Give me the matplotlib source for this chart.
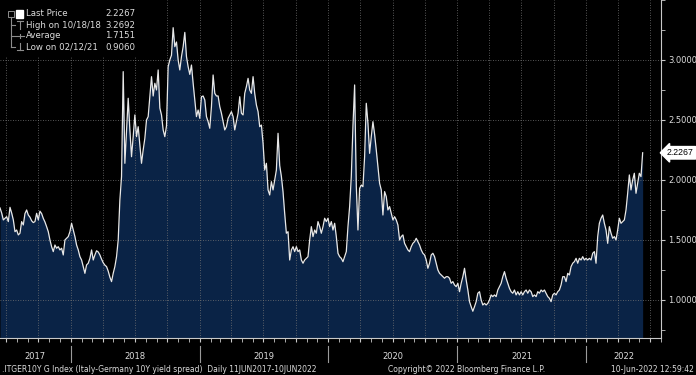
import numpy as np
import pandas as pd
from matplotlib import pyplot as plt
import matplotlib.dates as mdates
import matplotlib.transforms as mtransforms
from matplotlib.patches import Rectangle
from matplotlib.lines import Line2D

# Spread Italia-Alemanha 10Y (amostras ~ a cada 4.7 dias)
spread_jun17_mar18 = [
    1.767, 1.725, 1.667, 1.68, 1.694, 1.653, 1.772, 1.725, 1.667, 1.569,
    1.583, 1.542, 1.556, 1.653, 1.625, 1.72, 1.75, 1.708, 1.69, 1.66,
    1.645, 1.653, 1.722, 1.667, 1.74, 1.72, 1.68, 1.65, 1.611, 1.569,
    1.5, 1.444, 1.403, 1.458, 1.431, 1.444, 1.417, 1.431, 1.375, 1.5,
    1.514, 1.528, 1.569, 1.639, 1.583, 1.528, 1.458, 1.417, 1.361, 1.333,
    1.278, 1.222, 1.292, 1.306, 1.347, 1.417, 1.333, 1.375, 1.41, 1.40,
]
spread_mar18_nov18 = [
    1.375, 1.34, 1.31, 1.29, 1.278, 1.24, 1.19, 1.153, 1.222, 1.278,
    1.361, 1.5, 1.833, 2.028, 2.903, 2.139, 2.417, 2.681, 2.417, 2.194,
    2.361, 2.542, 2.361, 2.444, 2.292, 2.139, 2.25, 2.347, 2.5, 2.528,
    2.694, 2.861, 2.7, 2.806, 2.75, 2.917, 2.6, 2.542, 2.417, 2.361,
    2.45, 2.944, 3.0, 3.04, 3.2692, 3.111, 3.15, 3.0, 2.917, 3.028,
    3.11, 3.23, 3.028, 2.944,
]
spread_nov18_aug19 = [
    2.88, 2.958, 2.806, 2.667, 2.528, 2.583, 2.514, 2.694, 2.70, 2.667,
    2.528, 2.486, 2.431, 2.611, 2.875, 2.722, 2.70, 2.70, 2.611, 2.556,
    2.486, 2.417, 2.444, 2.514, 2.542, 2.569, 2.528, 2.417, 2.486, 2.556,
    2.694, 2.556, 2.542, 2.722, 2.778, 2.847, 2.75, 2.722, 2.861, 2.72,
    2.625, 2.569, 2.444, 2.458, 2.306, 2.083, 2.139, 1.917, 1.875, 1.986,
    1.917, 2.0, 2.083, 2.389, 2.12, 2.03, 1.90,
]
spread_aug19_may20 = [
    1.72, 1.556, 1.569, 1.333, 1.417, 1.444, 1.403, 1.444, 1.403, 1.417,
    1.333, 1.306, 1.333, 1.347, 1.361, 1.5, 1.611, 1.528, 1.583, 1.556,
    1.653, 1.611, 1.556, 1.611, 1.681, 1.653, 1.681, 1.611, 1.653, 1.583,
    1.639, 1.528, 1.389, 1.361, 1.347, 1.319, 1.361, 1.403, 1.611, 1.778,
    2.028, 2.45, 2.792, 1.95, 1.583, 1.93, 1.958, 1.944, 2.194, 2.639,
    2.472, 2.222, 2.361, 2.486, 2.38, 2.25, 2.111,
]
spread_may20_feb21 = [
    1.972, 1.917, 1.708, 1.903, 1.861, 1.75, 1.778, 1.722, 1.667, 1.694,
    1.667, 1.625, 1.5, 1.528, 1.542, 1.472, 1.444, 1.417, 1.403, 1.444,
    1.472, 1.486, 1.514, 1.486, 1.458, 1.417, 1.389, 1.375, 1.333, 1.264,
    1.306, 1.375, 1.389, 1.361, 1.306, 1.25, 1.222, 1.208, 1.194, 1.181,
    1.194, 1.194, 1.181, 1.139, 1.153, 1.125, 1.111, 1.139, 1.069, 1.139,
    1.194, 1.264, 1.167, 1.083, 0.986, 0.944, 0.906,
]
spread_feb21_nov21 = [
    0.944, 0.986, 1.056, 1.069, 1.0, 0.958, 0.972, 0.958, 0.972, 1.0,
    1.042, 1.028, 1.042, 1.028, 1.083, 1.111, 1.139, 1.194, 1.236, 1.181,
    1.139, 1.097, 1.069, 1.056, 1.083, 1.042, 1.069, 1.042, 1.069, 1.042,
    1.069, 1.083, 1.056, 1.083, 1.069, 1.028, 1.042, 1.028, 1.069, 1.056,
    1.083, 1.069, 1.083, 1.056, 1.028, 1.014, 0.986, 1.042, 1.056, 1.042,
    1.069, 1.083, 1.125, 1.194,
]
spread_nov21_jun22 = [
    1.194, 1.153, 1.222, 1.208, 1.278, 1.306, 1.319, 1.347, 1.306, 1.347,
    1.333, 1.361, 1.333, 1.347, 1.333, 1.347, 1.333, 1.389, 1.403, 1.306,
    1.528, 1.639, 1.681, 1.708, 1.639, 1.583, 1.472, 1.611, 1.556, 1.514,
    1.528, 1.5, 1.583, 1.681, 1.639, 1.653, 1.667, 1.75, 1.889, 2.042,
    1.917, 2.0, 2.056, 1.889, 1.972, 2.056, 2.028,
]

ultimo_preco = 2.2267
maximo, data_maximo = 3.2692, "10/18/18"
media = 1.7151
minimo, data_minimo = 0.9060, "02/12/21"

anos = [2017, 2018, 2019, 2020, 2021, 2022]
niveis_y = [1.0, 1.5, 2.0, 2.5, 3.0]

spread = (spread_jun17_mar18 + spread_mar18_nov18 + spread_nov18_aug19 +
          spread_aug19_may20 + spread_may20_feb21 + spread_feb21_nov21 +
          spread_nov21_jun22 + [ultimo_preco])
datas = pd.date_range("2017-06-14", "2022-06-10", periods=len(spread))

# cores estilo terminal
azul = '#0a2346'
cinza = '#c8c8c8'
texto = '#dcdcdc'

W, H = 696, 375
fig = plt.figure(figsize=(W / 100, H / 100), dpi=100, facecolor='black')
ax = fig.add_axes([0, 1 - 338 / H, 661 / W, 338 / H])
ax.set_facecolor('black')

y_min, y_max = 0.683, 3.5
x_min, x_max = datas[0], pd.Timestamp("2022-08-01")

ax.fill_between(datas, spread, y_min, color=azul, linewidth=0, zorder=1)
ax.plot(datas, spread, color='#e8e8e8', linewidth=0.9, zorder=3)

ax.set_xlim(x_min, x_max)
ax.set_ylim(y_min, y_max)

ax.xaxis.set_major_locator(mdates.MonthLocator(bymonth=[1, 4, 7, 10]))
ax.xaxis.set_minor_locator(mdates.MonthLocator())
ax.yaxis.set_major_locator(plt.FixedLocator(niveis_y))
ax.yaxis.set_minor_locator(plt.MultipleLocator(0.25))
ax.yaxis.tick_right()
ax.yaxis.set_major_formatter(plt.FuncFormatter(lambda v, p: f"{v:.4f}"))

ax.set_axisbelow(False)
ax.grid(True, which='major', color='#747474', linestyle=(0, (1, 2)), linewidth=0.6)

for lado in ['left', 'top']:
    ax.spines[lado].set_visible(False)
for lado in ['right', 'bottom']:
    ax.spines[lado].set_color(cinza)
    ax.spines[lado].set_linewidth(0.8)

ax.tick_params(axis='x', which='both', direction='out', length=3, color=cinza,
               labelbottom=False)
ax.tick_params(axis='y', which='both', direction='out', length=3, color=cinza,
               labelcolor=texto, labelsize=6, pad=2)

# anos no eixo x, com separadores
trans_x = ax.get_xaxis_transform()
for ano in anos:
    ini = max(pd.Timestamp(f"{ano}-01-01"), x_min)
    fim = min(pd.Timestamp(f"{ano + 1}-01-01"), x_max)
    meio = ini + (fim - ini) / 2
    ax.text(meio, -0.055, str(ano), transform=trans_x, ha='center', va='center',
            color=texto, fontsize=6, clip_on=False)
    if ano > anos[0]:
        ax.plot([pd.Timestamp(f"{ano}-01-01")] * 2, [-0.025, -0.07], transform=trans_x,
                color='#9a9a9a', linewidth=0.8, clip_on=False)

# etiqueta do ultimo preco
trans_y = mtransforms.blended_transform_factory(ax.transAxes, ax.transData)
ax.text(1 + 6 / 661, ultimo_preco, f"{ultimo_preco:.4f}", transform=trans_y, ha='left',
        va='center', fontsize=6.3, family='Liberation Sans', color='black', clip_on=False,
        bbox=dict(boxstyle='larrow,pad=0.2', fc='white', ec='white'))

# rodape
fig.text(2 / W, 1 - 369 / H, ".ITGER10Y G Index (Italy-Germany 10Y yield spread)  Daily 11JUN2017-10JUN2022",
         color=texto, fontsize=5.5, ha='left', va='center')
fig.text(388 / W, 1 - 369 / H, "Copyright\u00a9 2022 Bloomberg Finance L.P.",
         color=texto, fontsize=5.5, ha='left', va='center')
fig.text(694 / W, 1 - 369 / H, "10-Jun-2022 12:59:42",
         color=texto, fontsize=5.5, ha='right', va='center')


# legenda desenhada a mao (coordenadas em pixels)
def px(x, y):
    return x / W, 1 - y / H


def linha(xs, ys, cor='#8c8c8c', lw=0.8):
    fig.add_artist(Line2D([x / W for x in xs], [1 - y / H for y in ys],
                          transform=fig.transFigure, color=cor, linewidth=lw, zorder=7))


fig.add_artist(Rectangle(px(0, 57), 140 / W, 57 / H, transform=fig.transFigure,
                         facecolor='black', edgecolor='none', zorder=5))

linhas_legenda = [
    ("Last Price", f"{ultimo_preco:.4f}"),
    (f"High on {data_maximo}", f"{maximo:.4f}"),
    ("Average", f"{media:.4f}"),
    (f"Low on {data_minimo}", f"{minimo:.4f}"),
]
ys_legenda = [14, 25, 36, 47]
for (rotulo, valor), yl in zip(linhas_legenda, ys_legenda):
    fig.text(26 / W, 1 - yl / H, rotulo, color=texto, fontsize=6.2, ha='left', va='center', zorder=8)
    fig.text(105 / W, 1 - yl / H, valor, color=texto, fontsize=6.2, ha='left', va='center', zorder=8)

# arvore e icones
linha([11, 11], [17, 47])
for yl in ys_legenda[1:]:
    linha([11, 15], [yl, yl])
fig.add_artist(Rectangle(px(8, 17), 6 / W, 6 / H, transform=fig.transFigure,
                         facecolor='none', edgecolor='#8c8c8c', linewidth=0.7, zorder=7))
fig.add_artist(Rectangle(px(16, 18), 7 / W, 8 / H, transform=fig.transFigure,
                         facecolor='white', edgecolor='white', zorder=7))
linha([17, 23], [21, 21])
linha([20, 20], [21, 29])
linha([16, 24], [36, 36])
linha([20, 20], [34, 38])
linha([20, 20], [43, 50])
linha([17, 23], [50, 50])

fig.savefig("out.png", dpi=100, facecolor='black')
